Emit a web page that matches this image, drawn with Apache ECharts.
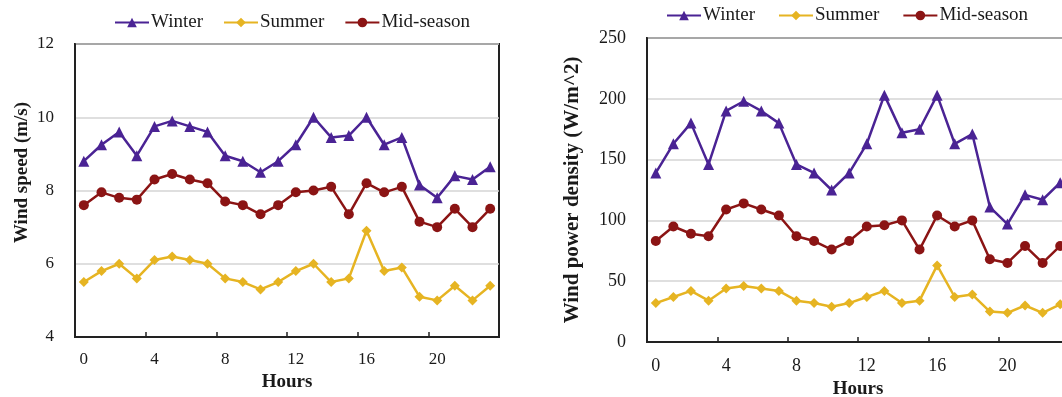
<!DOCTYPE html>
<html>
<head>
<meta charset="utf-8">
<script src="https://cdn.jsdelivr.net/npm/echarts@6/dist/echarts.min.js"></script>
<style>
  html, body { margin: 0; padding: 0; background: #fff; }
  #chart { width: 1062px; height: 397px; }
</style>
</head>
<body>
<div id="chart"></div>
<script>
// Hours of the day (category axis)
const hours = Array.from({ length: 24 }, (_, i) => String(i));

// Mean wind speed by hour (m/s)
const winterSpeed = [8.8, 9.25, 9.6, 8.95, 9.75, 9.9, 9.75, 9.6, 8.95, 8.8, 8.5, 8.8, 9.25, 10.0, 9.45, 9.5, 10.0, 9.25, 9.45, 8.15, 7.8, 8.4, 8.3, 8.65];
const summerSpeed = [5.5, 5.8, 6.0, 5.6, 6.1, 6.2, 6.1, 6.0, 5.6, 5.5, 5.3, 5.5, 5.8, 6.0, 5.5, 5.6, 6.9, 5.8, 5.9, 5.1, 5.0, 5.4, 5.0, 5.4];
const midSpeed = [7.6, 7.95, 7.8, 7.75, 8.3, 8.45, 8.3, 8.2, 7.7, 7.6, 7.35, 7.6, 7.95, 8.0, 8.1, 7.35, 8.2, 7.95, 8.1, 7.15, 7.0, 7.5, 7.0, 7.5];

// Mean wind power density by hour (W/m^2)
const winterPower = [139, 163, 180, 146, 190, 198, 190, 180, 146, 139, 125, 139, 163, 203, 172, 175, 203, 163, 171, 111, 97, 121, 117, 131];
const summerPower = [32, 37, 42, 34, 44, 46, 44, 42, 34, 32, 29, 32, 37, 42, 32, 34, 63, 37, 39, 25, 24, 30, 24, 31];
const midPower = [83, 95, 89, 87, 109, 114, 109, 104, 87, 83, 76, 83, 95, 96, 100, 76, 104, 95, 100, 68, 65, 79, 65, 79];

const seasonNames = ['Winter', 'Summer', 'Mid-season'];

const FONT = '"Liberation Serif", "Times New Roman", serif';
const INK = '#1a1a1a';
const COLORS = { 'Winter': '#4a2394', 'Summer': '#e6b422', 'Mid-season': '#8b1414' };
const SYMBOLS = { 'Winter': ['triangle', 11], 'Summer': ['diamond', 10], 'Mid-season': ['circle', 10] };

function seasonSeries(name, data, idx) {
  return {
    name: name,
    type: 'line',
    xAxisIndex: idx,
    yAxisIndex: idx,
    data: data,
    symbol: SYMBOLS[name][0],
    symbolSize: SYMBOLS[name][1],
    showAllSymbol: true,
    color: COLORS[name],
    lineStyle: { width: 2.5, color: COLORS[name] },
    itemStyle: { color: COLORS[name] },
    animation: false
  };
}

function categoryAxis(gridIndex, labelSize, labelMargin, titleGap) {
  return {
    type: 'category',
    gridIndex: gridIndex,
    data: hours,
    boundaryGap: true,
    name: 'Hours',
    nameLocation: 'middle',
    nameGap: titleGap,
    nameTextStyle: { fontFamily: FONT, fontWeight: 'bold', fontSize: 19, color: INK },
    axisLine: { show: true, lineStyle: { color: '#222', width: 2 } },
    axisTick: { show: true, inside: true, length: 5, interval: 3, lineStyle: { color: '#222', width: 1.5 } },
    axisLabel: { interval: 3, margin: labelMargin, fontFamily: FONT, fontSize: labelSize, color: INK },
    splitLine: { show: false }
  };
}

function valueAxis(gridIndex, min, max, step, title, gap, labelSize, titleSize, shift) {
  return {
    type: 'value',
    gridIndex: gridIndex,
    min: min,
    max: max,
    interval: step,
    name: title,
    nameLocation: 'middle',
    nameGap: gap,
    nameTextStyle: {
      fontFamily: FONT, fontWeight: 'bold', fontSize: titleSize, color: INK,
      padding: shift
    },
    axisLine: { show: true, lineStyle: { color: '#222', width: 2 } },
    axisTick: { show: false },
    axisLabel: { margin: 21, fontFamily: FONT, fontSize: labelSize, color: INK },
    splitLine: { show: true, lineStyle: { color: '#d4d4d4', width: 1.5 } }
  };
}

function legendAt(left, top, gap) {
  return {
    left: left,
    top: top,
    itemWidth: 34,
    itemHeight: 12,
    itemGap: gap,
    data: seasonNames,
    selectedMode: false,
    textStyle: { fontFamily: FONT, fontSize: 19, color: INK, padding: [0, 0, 0, -3] }
  };
}

const chart = echarts.init(document.getElementById('chart'), null, { renderer: 'canvas' });

chart.setOption({
  backgroundColor: '#ffffff',
  animation: false,
  legend: [legendAt(109, 8, 20), legendAt(661, 1, 23)],
  grid: [
    { left: 75, right: 563, top: 44, bottom: 60, outerBoundsMode: 'none', containLabel: false,
      show: true, borderColor: '#222', borderWidth: 2, backgroundColor: 'transparent' },
    { left: 647, right: -7, top: 38, bottom: 55, outerBoundsMode: 'none', containLabel: false,
      show: true, borderColor: '#222', borderWidth: 2, backgroundColor: 'transparent' }
  ],
  xAxis: [categoryAxis(0, 17, 14, 36), categoryAxis(1, 18, 15, 37)],
  yAxis: [
    valueAxis(0, 4, 12, 2, 'Wind speed (m/s)', 43, 17, 19, [0, 0, 0, 36]),
    valueAxis(1, 0, 250, 50, 'Wind power density (W/m^2)', 64, 18, 21, [0, 0, 0, 0])
  ],
  series: [
    seasonSeries('Winter', winterSpeed, 0),
    seasonSeries('Summer', summerSpeed, 0),
    seasonSeries('Mid-season', midSpeed, 0),
    seasonSeries('Winter', winterPower, 1),
    seasonSeries('Summer', summerPower, 1),
    seasonSeries('Mid-season', midPower, 1)
  ]
});
</script>
</body>
</html>
